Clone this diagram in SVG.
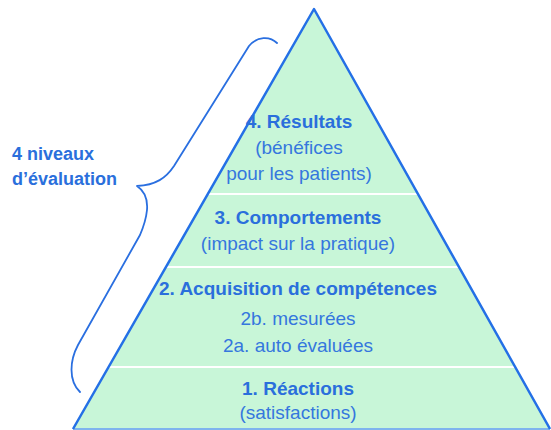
<svg xmlns="http://www.w3.org/2000/svg" width="551" height="430" viewBox="0 0 551 430">
<style>
.t{font-family:"Liberation Sans",Arial,sans-serif;fill:#2a6fdc;text-anchor:middle}
.b{font-weight:bold;font-size:19px}
.r{font-size:19px;fill:#3577de}
.sep{stroke:#ffffff;stroke-width:2}
.edge{fill:none;stroke:#2470e6;stroke-width:2.5;stroke-linejoin:round}
</style>
<rect width="551" height="430" fill="#ffffff"/>
<g id="pyramid">
<polygon points="314,9 550,429 73,429" fill="#c8f6d8"/>
<line class="sep" x1="208" y1="194" x2="418" y2="194"/>
<line class="sep" x1="166" y1="267" x2="459" y2="267"/>
<line class="sep" x1="109" y1="367" x2="515" y2="367"/>
<line x1="73" y1="429" x2="550" y2="429" stroke="#7fb4ee" stroke-width="2"/>
<polyline class="edge" points="73,429 314,9 550,429"/>
</g>
<g id="level4">
<text class="t b" x="299" y="128">4. Résultats</text>
<text class="t r" x="299" y="154">(bénéfices</text>
<text class="t r" x="299" y="180">pour les patients)</text>
</g>
<g id="level3">
<text class="t b" x="298" y="224">3. Comportements</text>
<text class="t r" x="298" y="250">(impact sur la pratique)</text>
</g>
<g id="level2">
<text class="t b" x="298" y="295">2. Acquisition de compétences</text>
<text class="t r" x="298" y="325">2b. mesurées</text>
<text class="t r" x="298" y="352">2a. auto évaluées</text>
</g>
<g id="level1">
<text class="t b" x="298" y="395">1. Réactions</text>
<text class="t r" x="298" y="419">(satisfactions)</text>
</g>
<g id="label">
<text class="t b" x="12" y="160" style="text-anchor:start;font-size:18px">4 niveaux</text>
<text class="t b" x="12" y="185" style="text-anchor:start;font-size:18px">d’évaluation</text>
</g>
<g id="connectors">
<path d="M277,43 C270,36 257,36 249,46 L174,166 C166,178 156,185 137,186 C143,190 148,198 147,210 C146,220 143,228 140,235 L78,345 C70,360 68,380 80,392" fill="none" stroke="#2a6fe0" stroke-width="1.8" stroke-linecap="round" stroke-linejoin="round"/>
</g>
</svg>
